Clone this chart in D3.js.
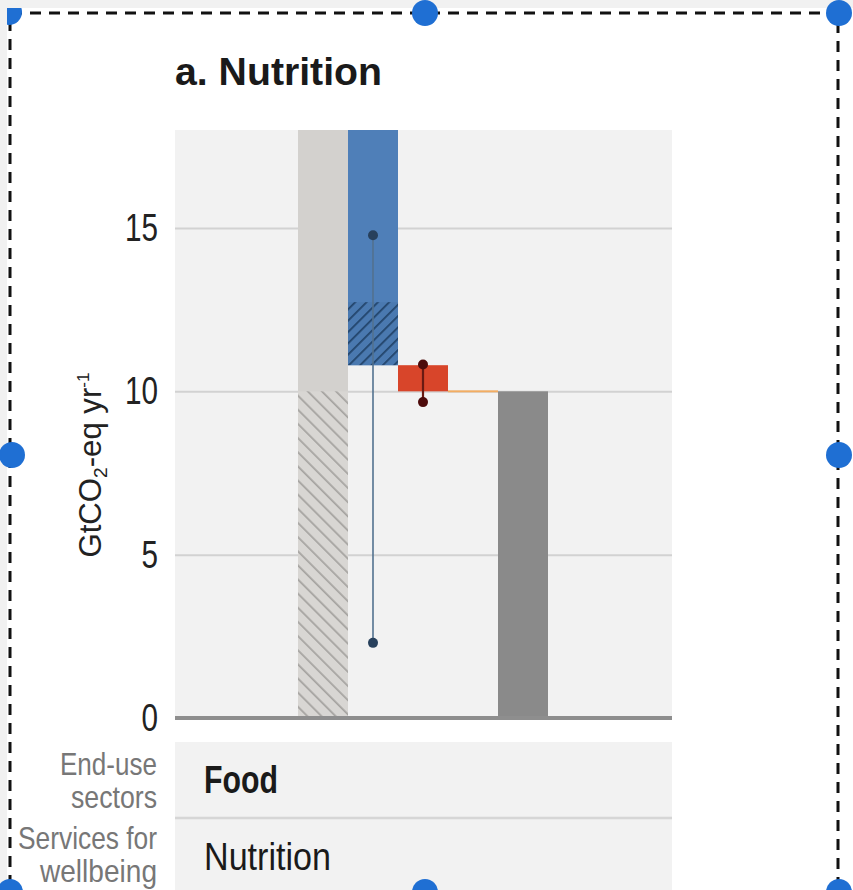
<!DOCTYPE html>
<html>
<head>
<meta charset="utf-8">
<script src="https://cdn.jsdelivr.net/npm/d3@7"></script>
<style>
  html, body { margin: 0; padding: 0; background: #f1f1f1; }
  svg { display: block; }
  text { font-family: "Liberation Sans", Arial, sans-serif; }
</style>
</head>
<body>
<script>
// Emission pathway columns (GtCO2-eq per year)
const columns = ["baseline", "sociocultural", "infrastructure", "technology", "remaining"];
const barLow  = [0, 10.8, 10.0, 9.97, 0];
const barHigh = [18, 18, 10.8, 10.03, 10.0];
const barFill = ["#d3d1ce", "#4f7fb8", "#d8452a", "#f3ad62", "#8a8a8a"];
// Hatched portions inside columns
const hatchColumns = ["baseline", "sociocultural"];
const hatchLow  = [0, 10.8];
const hatchHigh = [10, 12.73];
// Uncertainty ranges
const errColumns = ["sociocultural", "infrastructure"];
const errLow  = [2.3, 9.67];
const errHigh = [14.78, 10.82];
const yTicks = [0, 5, 10, 15];

const W = 853, H = 890;
const svg = d3.select("body").append("svg").attr("width", W).attr("height", H);

// condensed look: squeeze a text to a given width
function fit(sel, width) {
  return sel.attr("textLength", width).attr("lengthAdjust", "spacingAndGlyphs");
}

const defs = svg.append("defs");
const pGray = defs.append("pattern").attr("id", "hatchGray")
  .attr("patternUnits", "userSpaceOnUse").attr("width", 10).attr("height", 10)
  .attr("patternTransform", "rotate(-45)");
pGray.append("rect").attr("width", 10).attr("height", 10).attr("fill", "#d8d6d3");
pGray.append("line").attr("x1", 0).attr("y1", 0).attr("x2", 0).attr("y2", 10)
  .attr("stroke", "#a5a3a0").attr("stroke-width", 3.5);
const pBlue = defs.append("pattern").attr("id", "hatchBlue")
  .attr("patternUnits", "userSpaceOnUse").attr("width", 8).attr("height", 8)
  .attr("patternTransform", "rotate(45)");
pBlue.append("rect").attr("width", 8).attr("height", 8).attr("fill", "#4a79b0");
pBlue.append("line").attr("x1", 0).attr("y1", 0).attr("x2", 0).attr("y2", 8)
  .attr("stroke", "#22446a").attr("stroke-width", 3.5);
const hatchFill = ["url(#hatchGray)", "url(#hatchBlue)"];

// page frame
svg.append("rect").attr("x", 7).attr("y", 8).attr("width", W - 7).attr("height", H - 8).attr("fill", "#ffffff");

const plot = { left: 175, right: 672, top: 130, bottom: 718 };
const y = d3.scaleLinear().domain([0, 18]).range([plot.bottom, plot.top]);
const x = d3.scaleBand().domain(columns).range([298, 548]).padding(0);

// title
fit(svg.append("text").attr("x", 175).attr("y", 85)
  .attr("font-size", 39).attr("font-weight", "bold").attr("fill", "#1a1a1a")
  .text("a. Nutrition"), 207);

// plot background
svg.append("rect").attr("x", plot.left).attr("y", plot.top)
  .attr("width", plot.right - plot.left).attr("height", plot.bottom - plot.top)
  .attr("fill", "#f2f2f2");

// grid lines and tick labels
const yAxis = d3.axisLeft(y).tickValues(yTicks).tickSize(-(plot.right - plot.left)).tickPadding(17);
const ga = svg.append("g").attr("transform", `translate(${plot.left},0)`).call(yAxis);
ga.select(".domain").remove();
ga.selectAll(".tick line").attr("stroke", "#d2d2d2").attr("stroke-width", 2);
ga.selectAll(".tick text").attr("font-size", 39).attr("fill", "#222")
  .style("font-family", '"Liberation Sans", Arial, sans-serif')
  .each(function(d) { fit(d3.select(this), String(d).length * 16.5); });
ga.selectAll(".tick").filter(d => d === 0).select("line").attr("stroke-opacity", 0);

// bars
svg.append("g").selectAll("rect").data(columns).join("rect")
  .attr("x", d => x(d)).attr("width", x.bandwidth())
  .attr("y", (d, i) => y(barHigh[i]))
  .attr("height", (d, i) => y(barLow[i]) - y(barHigh[i]))
  .attr("fill", (d, i) => barFill[i]);

// hatched segments
svg.append("g").selectAll("rect").data(hatchColumns).join("rect")
  .attr("x", d => x(d)).attr("width", x.bandwidth())
  .attr("y", (d, i) => y(hatchHigh[i]))
  .attr("height", (d, i) => y(hatchLow[i]) - y(hatchHigh[i]))
  .attr("fill", (d, i) => hatchFill[i]);

// zero baseline
svg.append("line").attr("x1", plot.left).attr("x2", plot.right)
  .attr("y1", y(0)).attr("y2", y(0)).attr("stroke", "#8e8e8e").attr("stroke-width", 4);

// uncertainty ranges
const errLine = ["#52718f", "#6a1a12"];
const errDot = ["#27405c", "#4d0b0b"];
const eg = svg.append("g");
errColumns.forEach((c, i) => {
  const cx = x(c) + x.bandwidth() / 2;
  eg.append("line").attr("x1", cx).attr("x2", cx)
    .attr("y1", y(errLow[i])).attr("y2", y(errHigh[i]))
    .attr("stroke", errLine[i]).attr("stroke-width", i === 0 ? 1.6 : 2.2);
  [errLow[i], errHigh[i]].forEach(v => {
    eg.append("circle").attr("cx", cx).attr("cy", y(v)).attr("r", 5).attr("fill", errDot[i]);
  });
});

// y axis label
fit(svg.append("text")
  .attr("transform", `translate(101,465) rotate(-90)`)
  .attr("text-anchor", "middle").attr("font-size", 31).attr("fill", "#222")
  .html('GtCO<tspan font-size="19" dy="6">2</tspan><tspan dy="-6">-eq yr</tspan><tspan font-size="17" dy="-12">-1</tspan>'), 185);

// category rows beneath the chart
const rows = [
  { top: 742, bottom: 816, label: "Food", bold: true, w: 74, side: ["End-use", "sectors"], sw: [97, 86] },
  { top: 820, bottom: 898, label: "Nutrition", bold: false, w: 127, side: ["Services for", "wellbeing"], sw: [139, 117] }
];
const rg = svg.append("g");
rows.forEach((r, i) => {
  rg.append("rect").attr("x", plot.left).attr("y", r.top)
    .attr("width", plot.right - plot.left).attr("height", r.bottom - r.top).attr("fill", "#f2f2f2");
  fit(rg.append("text").attr("x", 204).attr("y", i === 0 ? 793 : 870)
    .attr("font-size", 38).attr("font-weight", r.bold ? "bold" : "normal").attr("fill", "#1a1a1a")
    .text(r.label), r.w);
  r.side.forEach((s, j) => {
    fit(rg.append("text").attr("x", 157).attr("y", (i === 0 ? 775 : 849) + j * 33)
      .attr("text-anchor", "end").attr("font-size", 32).attr("fill", "#777")
      .text(s), r.sw[j]);
  });
});
rg.append("line").attr("x1", plot.left).attr("x2", plot.right).attr("y1", 818).attr("y2", 818)
  .attr("stroke", "#d6d6d6").attr("stroke-width", 3);

// selection frame
const frame = { x0: 10, y0: 13, x1: 838, y1: 905 };
svg.append("path")
  .attr("d", `M${frame.x0},${frame.y1} V${frame.y0} H${frame.x1} V${frame.y1}`)
  .attr("fill", "none").attr("stroke", "#111").attr("stroke-width", 3)
  .attr("stroke-dasharray", "11 8");
defs.append("clipPath").attr("id", "pageClip")
  .append("rect").attr("x", 7).attr("y", 8).attr("width", W).attr("height", H);
const handles = [[425, 13], [839, 13], [12, 455], [839, 455], [10, 892], [425, 892], [839, 892]];
svg.append("g").selectAll("circle").data(handles).join("circle")
  .attr("cx", d => d[0]).attr("cy", d => d[1]).attr("r", 13).attr("fill", "#1f6fd3");
svg.append("circle").attr("cx", 9).attr("cy", 12).attr("r", 13).attr("fill", "#1f6fd3")
  .attr("clip-path", "url(#pageClip)");
</script>
</body>
</html>
